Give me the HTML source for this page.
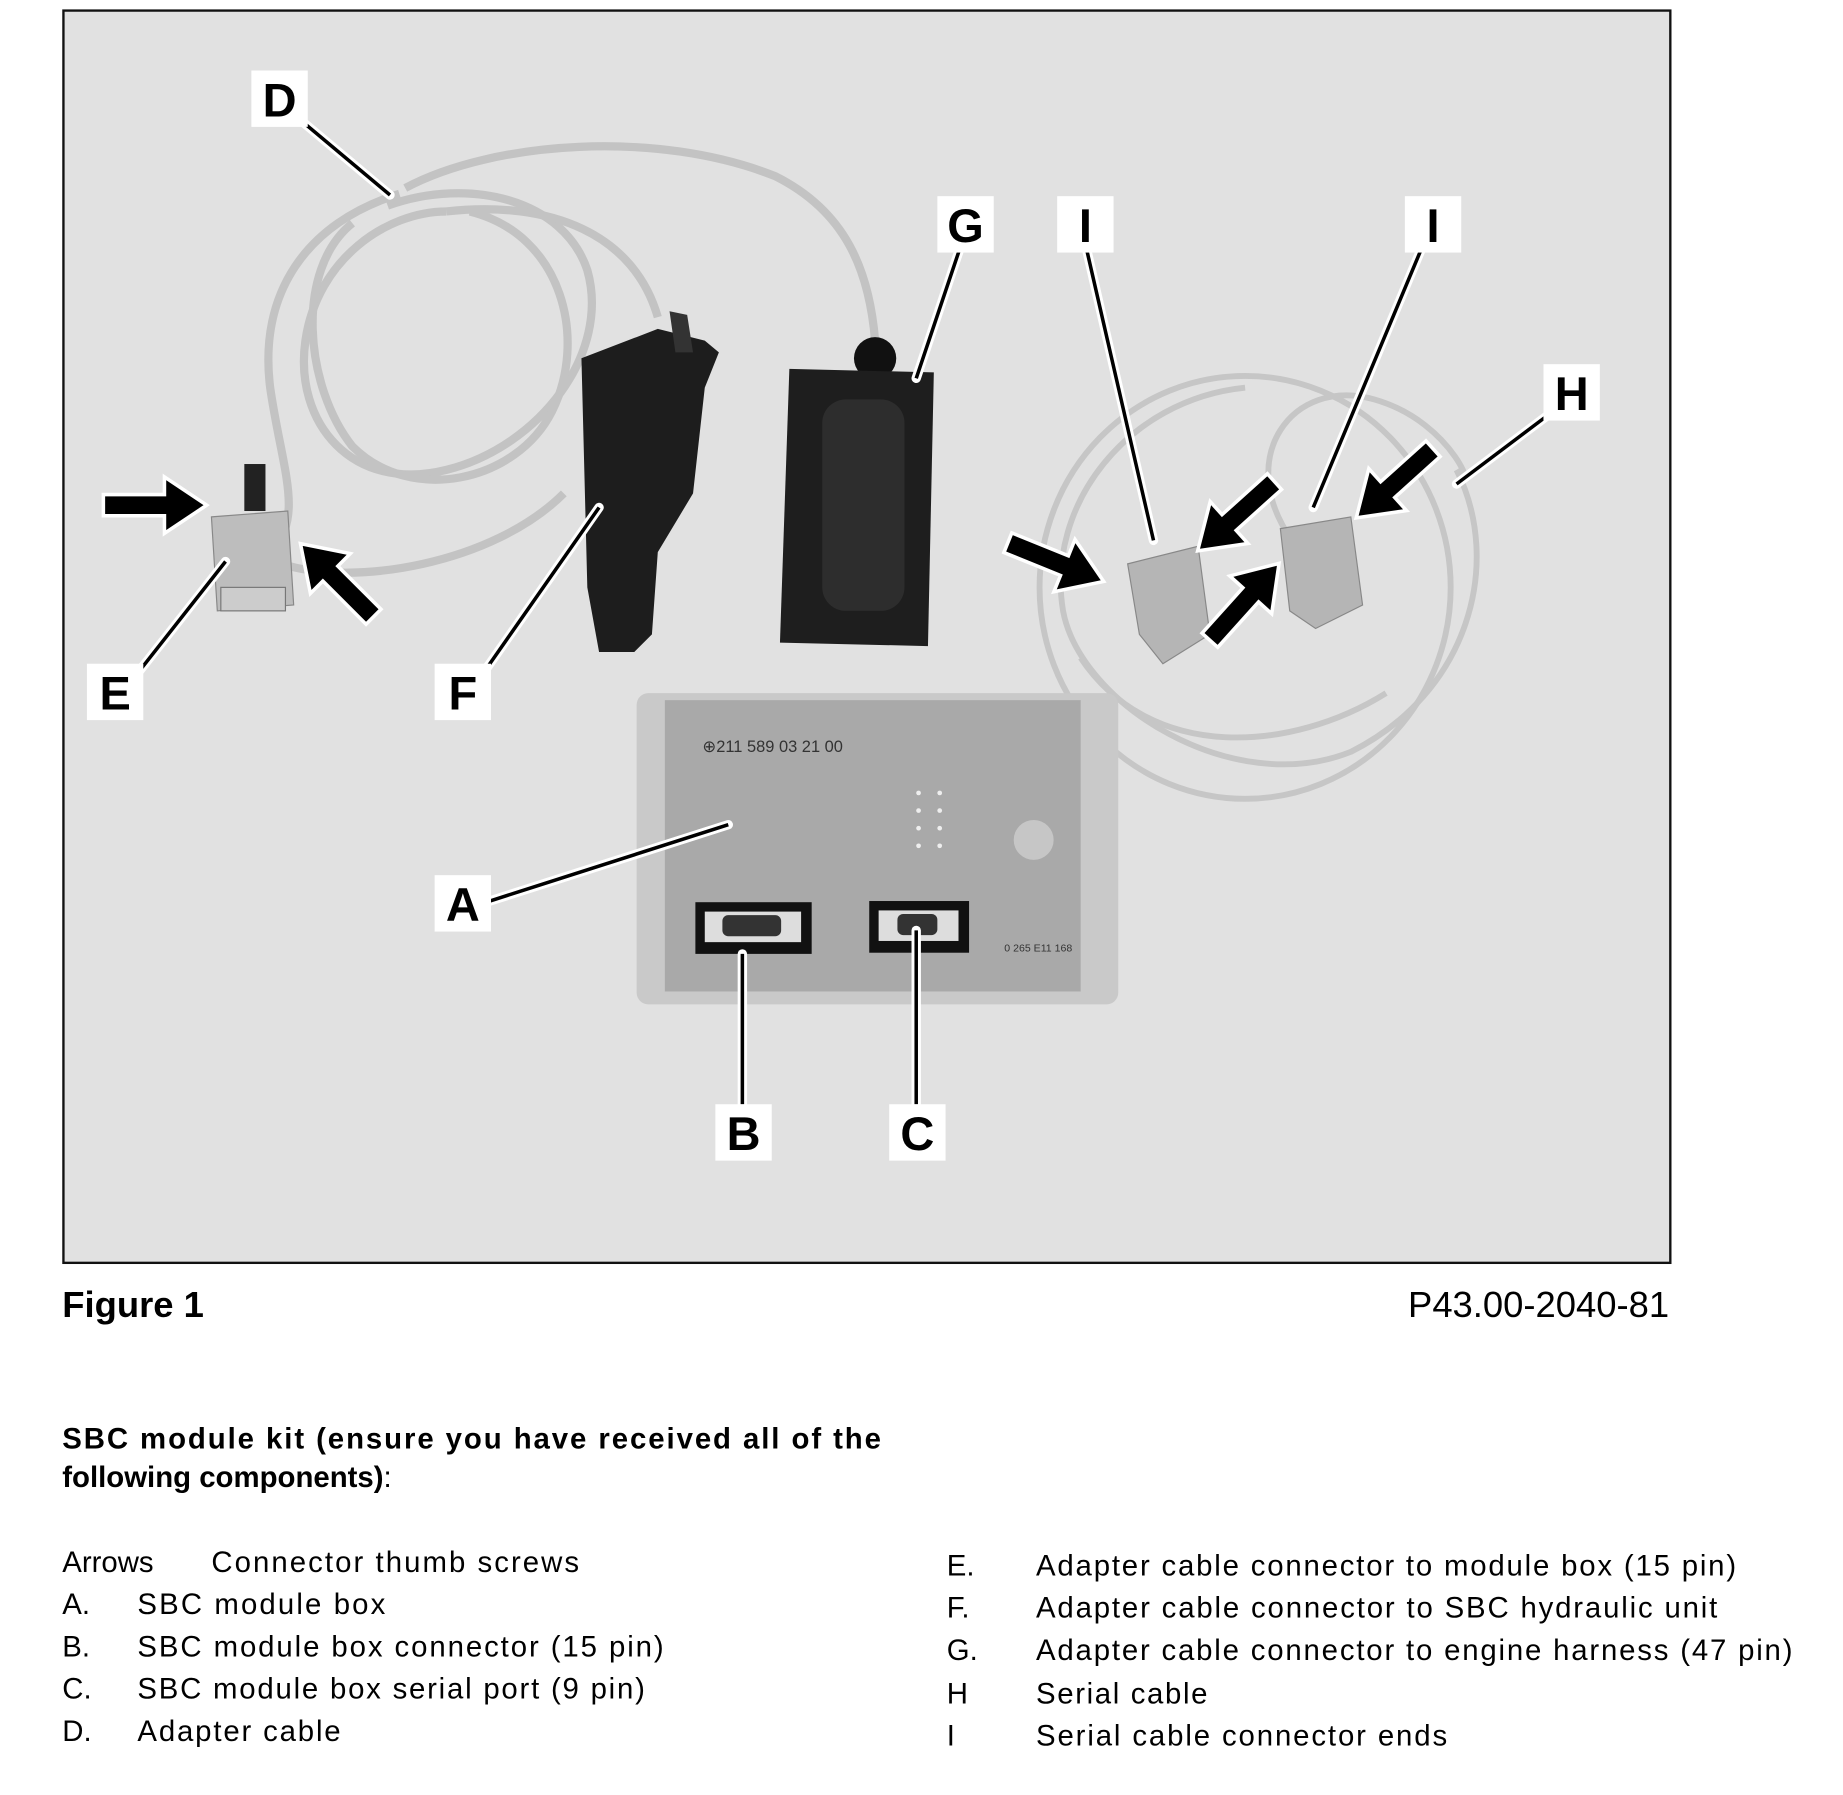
<!DOCTYPE html>
<html><head><meta charset="utf-8"><style>
html,body{margin:0;padding:0;background:#fff;}
svg{display:block;}
text{font-family:"Liberation Sans",Arial,sans-serif;}
</style></head><body>
<svg width="1843" height="1795" viewBox="0 0 1569 1528" preserveAspectRatio="none" xmlns="http://www.w3.org/2000/svg">
<rect x="0" y="0" width="1569" height="1528" fill="#fff"/>
<rect x="54" y="9" width="1368" height="1066" fill="#e1e1e1" stroke="#111" stroke-width="2"/>
<!-- cables D -->
<g fill="none" stroke="#c3c3c3" stroke-width="7">
<path d="M345 160 C420 120 560 110 660 150 C720 180 740 230 745 290"/>
<path d="M340 165 C260 190 220 250 230 330 C240 400 260 440 230 470"/>
<path d="M330 175 C400 150 480 170 500 230 C520 300 460 380 380 400 C300 420 250 360 260 290 C270 220 330 180 380 180"/>
<path d="M300 190 C250 230 260 330 300 380 C350 430 440 410 470 350 C500 290 480 200 400 180"/>
<path d="M240 480 C300 500 420 480 480 420"/>
<path d="M380 180 C470 170 540 200 560 270"/>
</g>
<!-- serial cable H -->
<g fill="none" stroke="#c6c6c6" stroke-width="5">
<ellipse cx="1060" cy="500" rx="175" ry="180"/>
<path d="M1240 400 C1280 480 1250 590 1150 640 C1050 680 920 600 905 520 C890 430 960 340 1060 330"/>
<path d="M1100 460 C1050 390 1100 320 1170 340 C1240 360 1260 430 1240 400"/>
<path d="M920 560 C980 650 1100 640 1180 590"/>
</g>
<!-- E connector -->
<rect x="208" y="395" width="18" height="40" fill="#222"/>
<polygon points="180,440 245,435 250,515 185,520" fill="#bdbdbd" stroke="#888"/>
<rect x="188" y="500" width="55" height="20" fill="#ccc" stroke="#777"/>
<!-- F -->
<path d="M495 305 L560 280 L600 290 L612 300 L600 330 L590 420 L560 470 L555 540 L540 555 L510 555 L500 500 Z" fill="#1d1d1d"/>
<path d="M570 265 L585 268 L590 300 L575 300 Z" fill="#333"/>
<!-- G -->
<circle cx="745" cy="305" r="18" fill="#111"/>
<polygon points="672,314 795,317 790,550 664,547" fill="#1e1e1e"/>
<rect x="700" y="340" width="70" height="180" rx="20" fill="#2d2d2d"/>
<!-- A box -->
<rect x="542" y="590" width="410" height="265" rx="10" fill="#c9c9c9"/>
<rect x="566" y="596" width="354" height="248" fill="#a9a9a9"/>
<text x="598" y="640" font-size="14" fill="#333">⊕211 589 03 21 00</text>
<text x="855" y="810" font-size="9" fill="#333">0 265 E11 168</text>
<circle cx="880" cy="715" r="17" fill="#c6c6c6"/>
<g fill="#eee"><circle cx="782" cy="675" r="2"/><circle cx="800" cy="675" r="2"/><circle cx="782" cy="690" r="2"/><circle cx="800" cy="690" r="2"/><circle cx="782" cy="705" r="2"/><circle cx="800" cy="705" r="2"/><circle cx="782" cy="720" r="2"/><circle cx="800" cy="720" r="2"/></g>
<rect x="592" y="768" width="99" height="44" fill="#111"/>
<rect x="600" y="776" width="82" height="26" fill="#ddd"/>
<rect x="615" y="779" width="50" height="18" rx="5" fill="#333"/>
<rect x="740" y="767" width="85" height="44" fill="#111"/>
<rect x="748" y="775" width="68" height="26" fill="#ddd"/>
<rect x="764" y="778" width="34" height="18" rx="5" fill="#333"/>
<!-- I connectors -->
<polygon points="960,480 1020,465 1030,540 990,565 970,540" fill="#b5b5b5" stroke="#888"/>
<polygon points="1090,450 1150,440 1160,515 1120,535 1098,520" fill="#b5b5b5" stroke="#888"/>
<!-- leader lines -->
<g stroke="#fff" stroke-width="8" fill="none" stroke-linecap="round">
<path d="M258 104 L332 166"/><path d="M817 212 L780 322"/><path d="M925 212 L982 460"/><path d="M1210 212 L1118 432"/><path d="M1317 354 L1240 412"/><path d="M118 572 L192 478"/><path d="M410 575 L510 432"/><path d="M417 767 L620 702"/><path d="M632 940 L632 812"/><path d="M780 940 L780 792"/>
</g>
<g stroke="#000" stroke-width="3" fill="none">
<path d="M258 104 L332 166"/><path d="M817 212 L780 322"/><path d="M925 212 L982 460"/><path d="M1210 212 L1118 432"/><path d="M1317 354 L1240 412"/><path d="M118 572 L192 478"/><path d="M410 575 L510 432"/><path d="M417 767 L620 702"/><path d="M632 940 L632 812"/><path d="M780 940 L780 792"/>
</g>
<!-- arrows -->
<defs><polygon id="ar" points="0,-9 52,-9 52,-24 88,0 52,24 52,9 0,9"/></defs>
<g fill="#000" stroke="#fff" stroke-width="3">
<use href="#ar" transform="translate(88,430)"/>
<use href="#ar" transform="translate(318,525) rotate(-135)"/>
<use href="#ar" transform="translate(858,462) rotate(22)"/>
<use href="#ar" transform="translate(1085,410) rotate(138)"/>
<use href="#ar" transform="translate(1030,545) rotate(-48)"/>
<use href="#ar" transform="translate(1220,382) rotate(138)"/>
</g>
<!-- labels -->
<g font-size="40" font-weight="bold" text-anchor="middle">
<rect x="214" y="60" width="48" height="48" fill="#fff"/><text x="238" y="99">D</text>
<rect x="798" y="167" width="48" height="48" fill="#fff"/><text x="822" y="206">G</text>
<rect x="900" y="167" width="48" height="48" fill="#fff"/><text x="924" y="206">I</text>
<rect x="1196" y="167" width="48" height="48" fill="#fff"/><text x="1220" y="206">I</text>
<rect x="1314" y="310" width="48" height="48" fill="#fff"/><text x="1338" y="349">H</text>
<rect x="74" y="565" width="48" height="48" fill="#fff"/><text x="98" y="604">E</text>
<rect x="370" y="565" width="48" height="48" fill="#fff"/><text x="394" y="604">F</text>
<rect x="370" y="745" width="48" height="48" fill="#fff"/><text x="394" y="784">A</text>
<rect x="609" y="940" width="48" height="48" fill="#fff"/><text x="633" y="979">B</text>
<rect x="757" y="940" width="48" height="48" fill="#fff"/><text x="781" y="979">C</text>
</g>
<!-- captions -->
<text x="53" y="1121" font-size="31" font-weight="bold">Figure 1</text>
<text x="1421" y="1121" font-size="31" text-anchor="end">P43.00-2040-81</text>
<text x="53" y="1233" font-size="25" font-weight="bold" textLength="697">SBC module kit (ensure you have received all of the</text>
<text x="53" y="1266" font-size="25" font-weight="bold">following components)<tspan font-weight="normal">:</tspan></text>
<g font-size="25">
<text x="53" y="1338">Arrows</text><text x="180" y="1338" textLength="313">Connector thumb screws</text>
<text x="53" y="1374">A.</text><text x="117" y="1374" textLength="211">SBC module box</text>
<text x="53" y="1410">B.</text><text x="117" y="1410" textLength="448">SBC module box connector (15 pin)</text>
<text x="53" y="1446">C.</text><text x="117" y="1446" textLength="432">SBC module box serial port (9 pin)</text>
<text x="53" y="1482">D.</text><text x="117" y="1482" textLength="173">Adapter cable</text>
<text x="806" y="1341">E.</text><text x="882" y="1341" textLength="596">Adapter cable connector to module box (15 pin)</text>
<text x="806" y="1377">F.</text><text x="882" y="1377" textLength="580">Adapter cable connector to SBC hydraulic unit</text>
<text x="806" y="1413">G.</text><text x="882" y="1413" textLength="644">Adapter cable connector to engine harness (47 pin)</text>
<text x="806" y="1450">H</text><text x="882" y="1450" textLength="146">Serial cable</text>
<text x="806" y="1486">I</text><text x="882" y="1486" textLength="350">Serial cable connector ends</text>
</g>
</svg>
</body></html>
